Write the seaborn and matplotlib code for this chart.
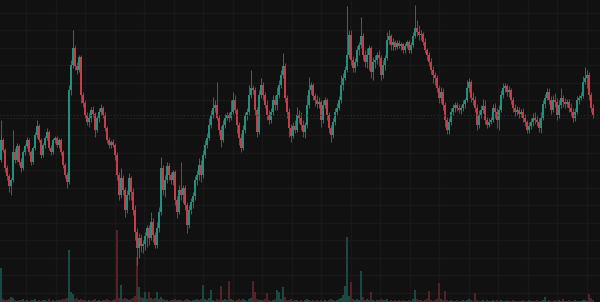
import numpy as np
import pandas as pd
import matplotlib
matplotlib.use("Agg")
import matplotlib.pyplot as plt
import seaborn as sns

opens = [
    140, 160, 150, 132, 124, 114, 120, 148, 140, 154,
    138, 132, 148, 154, 160, 148, 138, 152, 165, 174,
    160, 145, 155, 162, 168, 152, 148, 160, 162, 155,
    160, 148, 135, 125, 118, 210, 235, 252, 234, 230,
    243, 205, 197, 185, 178, 182, 190, 186, 170, 182,
    188, 192, 185, 172, 160, 155, 158, 155, 145, 125,
    105, 122, 110, 90, 105, 122, 108, 90, 68, 52,
    62, 54, 56, 64, 72, 62, 78, 65, 55, 72,
    88, 132, 110, 120, 134, 125, 120, 128, 100, 88,
    110, 105, 112, 95, 75, 90, 98, 104, 120, 125,
    135, 125, 145, 155, 162, 175, 185, 192, 195, 182,
    170, 160, 175, 182, 185, 182, 188, 200, 190, 175,
    162, 152, 170, 185, 188, 205, 212, 210, 190, 168,
    205, 215, 205, 195, 185, 180, 188, 200, 195, 205,
    215, 225, 234, 202, 188, 172, 164, 174, 170, 185,
    182, 175, 168, 175, 195, 210, 215, 204, 200, 196,
    198, 180, 195, 200, 185, 172, 165, 178, 188, 192,
    200, 215, 222, 230, 245, 265, 240, 232, 238, 250,
    255, 264, 245, 238, 245, 252, 228, 238, 240, 245,
    242, 225, 235, 242, 260, 264, 255, 258, 253, 257,
    254, 256, 250, 254, 258, 250, 255, 264, 272, 268,
    265, 266, 258, 250, 245, 238, 230, 225, 222, 212,
    202, 208, 195, 180, 170, 178, 188, 192, 195, 192,
    190, 192, 196, 200, 212, 218, 202, 200, 192, 175,
    185, 190, 194, 180, 175, 178, 180, 192, 188, 180,
    190, 205, 212, 214, 208, 210, 200, 192, 188, 190,
    186, 188, 182, 178, 170, 174, 178, 182, 180, 178,
    172, 182, 196, 202, 208, 200, 190, 200, 198, 185,
    195, 202, 198, 196, 198, 192, 188, 182, 188, 200,
    202, 204, 218, 222, 225, 205, 192,
]

highs = [
    180, 162, 152, 135, 126, 122, 170, 152, 157, 156,
    142, 150, 156, 163, 162, 150, 154, 168, 180, 176,
    162, 157, 164, 172, 170, 155, 162, 164, 164, 162,
    162, 150, 137, 128, 215, 240, 270, 255, 238, 245,
    245, 208, 200, 188, 187, 193, 194, 188, 184, 192,
    196, 194, 188, 174, 163, 160, 161, 157, 148, 128,
    132, 125, 113, 110, 127, 124, 112, 95, 72, 67,
    66, 60, 68, 75, 75, 88, 82, 68, 78, 93,
    143, 135, 125, 138, 137, 128, 130, 130, 104, 115,
    138, 115, 115, 98, 95, 102, 108, 124, 130, 142,
    140, 150, 160, 167, 182, 190, 203, 200, 218, 185,
    174, 180, 186, 188, 188, 200, 208, 205, 192, 178,
    167, 175, 188, 192, 215, 230, 215, 213, 193, 210,
    222, 218, 208, 200, 190, 192, 205, 205, 213, 220,
    230, 247, 237, 205, 192, 176, 178, 180, 193, 190,
    188, 180, 178, 205, 223, 218, 217, 207, 205, 203,
    200, 200, 203, 202, 188, 175, 182, 192, 197, 204,
    225, 227, 234, 294, 270, 270, 244, 242, 254, 258,
    283, 267, 250, 252, 255, 254, 243, 245, 248, 250,
    245, 240, 245, 268, 270, 266, 262, 260, 260, 260,
    258, 257, 257, 260, 260, 258, 268, 295, 280, 275,
    270, 268, 262, 252, 248, 242, 234, 228, 225, 215,
    213, 212, 198, 183, 182, 192, 196, 198, 198, 196,
    195, 200, 202, 220, 222, 220, 208, 204, 196, 190,
    195, 201, 200, 183, 182, 183, 196, 197, 192, 195,
    210, 217, 217, 216, 214, 212, 203, 196, 194, 193,
    191, 192, 186, 180, 178, 182, 187, 188, 184, 182,
    188, 200, 206, 212, 212, 204, 205, 207, 202, 200,
    212, 205, 202, 201, 201, 197, 192, 192, 204, 205,
    208, 224, 233, 230, 228, 208, 196,
]

lows = [
    138, 148, 128, 120, 108, 105, 118, 137, 138, 135,
    128, 130, 145, 152, 145, 135, 136, 150, 162, 158,
    142, 143, 152, 160, 150, 145, 146, 157, 153, 152,
    145, 132, 122, 112, 116, 205, 232, 230, 226, 228,
    197, 193, 182, 175, 173, 178, 183, 163, 168, 178,
    185, 182, 169, 157, 152, 152, 153, 140, 120, 100,
    102, 105, 83, 87, 100, 100, 85, 60, 35, 42,
    48, 47, 50, 53, 55, 60, 58, 52, 52, 68,
    85, 105, 103, 117, 120, 116, 115, 95, 82, 86,
    100, 97, 90, 67, 72, 86, 92, 100, 115, 120,
    118, 122, 142, 152, 160, 172, 182, 188, 180, 165,
    153, 158, 172, 180, 178, 180, 186, 187, 167, 155,
    148, 150, 167, 180, 185, 202, 206, 185, 163, 166,
    202, 200, 192, 180, 176, 177, 185, 190, 190, 202,
    212, 222, 198, 182, 163, 158, 162, 167, 168, 177,
    170, 163, 162, 172, 192, 206, 200, 194, 192, 192,
    173, 177, 192, 180, 167, 158, 162, 175, 185, 190,
    197, 210, 220, 228, 242, 235, 228, 228, 234, 245,
    252, 240, 233, 232, 230, 222, 220, 232, 236, 234,
    220, 222, 230, 240, 256, 250, 250, 250, 251, 252,
    250, 247, 247, 252, 247, 247, 253, 262, 264, 260,
    260, 255, 247, 240, 234, 226, 217, 215, 208, 197,
    197, 190, 173, 166, 166, 175, 185, 188, 189, 187,
    186, 189, 192, 198, 208, 198, 195, 188, 170, 172,
    182, 187, 176, 172, 173, 176, 178, 182, 172, 170,
    188, 202, 208, 204, 203, 196, 188, 184, 185, 182,
    183, 178, 174, 167, 167, 171, 174, 176, 174, 168,
    167, 180, 192, 200, 196, 186, 188, 193, 180, 182,
    192, 193, 192, 193, 188, 184, 178, 179, 186, 196,
    200, 202, 216, 212, 200, 188, 182,
]

closes = [
    160, 150, 132, 124, 114, 120, 148, 140, 154, 138,
    132, 148, 154, 160, 148, 138, 152, 165, 174, 160,
    145, 155, 162, 168, 152, 148, 160, 162, 155, 160,
    148, 135, 125, 118, 210, 235, 252, 234, 230, 243,
    205, 197, 185, 178, 182, 190, 186, 170, 182, 188,
    192, 185, 172, 160, 155, 158, 155, 145, 125, 105,
    122, 110, 90, 105, 122, 108, 90, 68, 52, 62,
    54, 56, 64, 72, 62, 78, 65, 55, 72, 88,
    132, 110, 120, 134, 125, 120, 128, 100, 88, 110,
    105, 112, 95, 75, 90, 98, 104, 120, 125, 135,
    125, 145, 155, 162, 175, 185, 192, 195, 182, 170,
    160, 175, 182, 185, 182, 188, 200, 190, 175, 162,
    152, 170, 185, 188, 205, 212, 210, 190, 168, 205,
    215, 205, 195, 185, 180, 188, 200, 195, 205, 215,
    225, 234, 202, 188, 172, 164, 174, 170, 185, 182,
    175, 168, 175, 195, 210, 215, 204, 200, 196, 198,
    180, 195, 200, 185, 172, 165, 178, 188, 192, 200,
    215, 222, 230, 245, 265, 240, 232, 238, 250, 255,
    264, 245, 238, 245, 252, 228, 238, 240, 245, 242,
    225, 235, 242, 260, 264, 255, 258, 253, 257, 254,
    256, 250, 254, 258, 250, 255, 264, 272, 268, 265,
    266, 258, 250, 245, 238, 230, 225, 222, 212, 202,
    208, 195, 180, 170, 178, 188, 192, 195, 192, 190,
    192, 196, 200, 212, 218, 202, 200, 192, 175, 185,
    190, 194, 180, 175, 178, 180, 192, 188, 180, 190,
    205, 212, 214, 208, 210, 200, 192, 188, 190, 186,
    188, 182, 178, 170, 174, 178, 182, 180, 178, 172,
    182, 196, 202, 208, 200, 190, 200, 198, 185, 195,
    202, 198, 196, 198, 192, 188, 182, 188, 200, 202,
    204, 218, 222, 225, 205, 192, 185,
]

volumes = [
    34, 3, 2, 2, 3, 5, 4, 2, 1, 2,
    2, 3, 1, 2, 1, 2, 2, 3, 1, 2,
    1, 2, 2, 1, 3, 1, 2, 1, 2, 2,
    2, 3, 3, 4, 52, 10, 8, 3, 4, 2,
    3, 2, 2, 1, 2, 1, 2, 3, 1, 2,
    1, 2, 2, 3, 2, 1, 2, 3, 72, 4,
    17, 3, 4, 3, 2, 3, 4, 6, 45, 15,
    5, 4, 10, 3, 10, 4, 3, 4, 10, 3,
    5, 3, 2, 2, 1, 2, 2, 3, 2, 2,
    2, 1, 2, 3, 2, 1, 2, 2, 3, 2,
    3, 17, 3, 2, 4, 12, 2, 1, 3, 2,
    16, 2, 3, 2, 21, 3, 2, 1, 2, 3,
    2, 3, 2, 1, 3, 4, 21, 10, 3, 2,
    2, 2, 3, 9, 2, 1, 2, 3, 12, 10,
    3, 15, 5, 2, 2, 3, 1, 2, 2, 1,
    2, 1, 2, 3, 2, 1, 2, 1, 2, 1,
    2, 1, 2, 1, 2, 3, 2, 1, 2, 3,
    4, 7, 16, 65, 6, 20, 3, 2, 3, 2,
    31, 5, 2, 3, 2, 10, 2, 1, 2, 2,
    3, 2, 2, 3, 1, 2, 1, 2, 1, 2,
    1, 2, 1, 1, 2, 1, 3, 12, 3, 2,
    2, 1, 2, 3, 11, 2, 1, 2, 3, 19,
    3, 2, 11, 2, 1, 2, 1, 1, 2, 1,
    1, 2, 1, 2, 3, 2, 1, 9, 2, 1,
    1, 2, 1, 2, 1, 1, 2, 1, 2, 1,
    2, 1, 1, 2, 1, 1, 2, 1, 1, 1,
    1, 2, 1, 1, 2, 1, 1, 1, 2, 1,
    1, 2, 5, 1, 2, 1, 1, 2, 1, 2,
    1, 3, 1, 1, 2, 1, 1, 2, 1, 1,
    1, 2, 2, 1, 8, 4, 2,
]

BG = "#111111"
GRID = "#181818"
UP = "#22907f"
DOWN = "#c63d49"
VUP = "#1a4842"
VDOWN = "#552227"

sns.set_theme(style="dark", rc={"axes.facecolor": BG, "figure.facecolor": BG})

n = len(closes)
df = pd.DataFrame({"t": np.arange(n), "open": opens, "high": highs, "low": lows,
                   "close": closes, "volume": volumes})
df["dir"] = np.where(df["close"] >= df["open"], "up", "down")

fig = plt.figure(figsize=(6, 3.02), dpi=100)
ax_v = fig.add_axes([0, 0, 1, 1])
ax = fig.add_axes([0, 0, 1, 1])
ax.patch.set_alpha(0)

# volume (bottom layer)
sns.barplot(data=df, x="t", y="volume", hue="dir", palette={"up": VUP, "down": VDOWN},
            native_scale=True, dodge=False, width=0.6, legend=False, saturation=1,
            linewidth=0, ax=ax_v)
ax_v.set_xlim(-0.5, 299.5)
ax_v.set_ylim(0, 302)
ax_v.set_xticks(np.arange(12.5, 300, 14.75))
ax_v.set_yticks(np.arange(289.25, 0, -17.5))
ax_v.grid(True, color=GRID, linewidth=1)
ax_v.set_facecolor(BG)

# candles
cols = np.where(df["dir"] == "up", UP, DOWN)
ax.vlines(df["t"], df["low"], df["high"], colors=cols, linewidth=0.7, alpha=0.8)
body_lo = np.minimum(df["open"], df["close"])
body_h = np.maximum(np.abs(df["close"] - df["open"]), 0.8)
ax.bar(df["t"], body_h, bottom=body_lo, width=0.7, color=cols, linewidth=0)
ax.axhline(df["close"].iloc[-1], color="#2e2e2e", linestyle=(0, (1, 2)), linewidth=0.8)
ax.set_xlim(-0.5, 299.5)
ax.set_ylim(-2, 300)
ax.grid(False)

for a in (ax, ax_v):
    a.tick_params(labelbottom=False, labelleft=False, length=0)
    a.set_xlabel("")
    a.set_ylabel("")
    for s in a.spines.values():
        s.set_visible(False)

fig.savefig("out.png", dpi=100, facecolor=BG)
